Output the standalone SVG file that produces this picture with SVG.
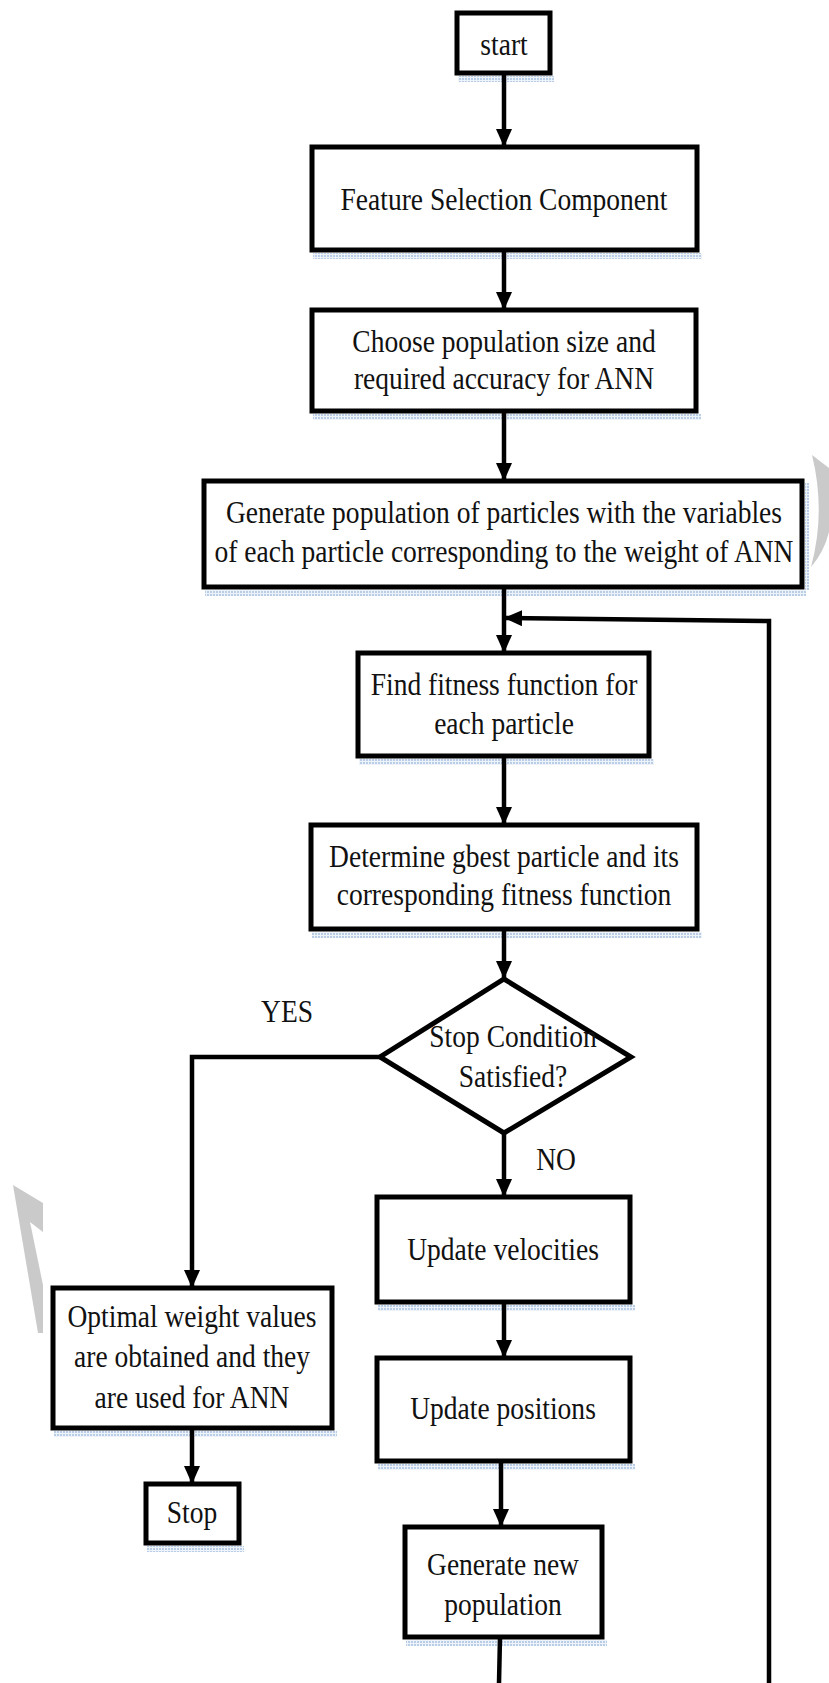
<svg xmlns="http://www.w3.org/2000/svg" width="829" height="1683" viewBox="0 0 829 1683">
<defs>
<pattern id="dots" width="3" height="3" patternUnits="userSpaceOnUse">
<rect width="3" height="3" fill="#eef3fa"/>
<rect width="2" height="2" fill="#b9cde6"/>
</pattern>
<marker id="ah" markerUnits="userSpaceOnUse" markerWidth="18" markerHeight="16" refX="18" refY="8" orient="auto">
<path d="M0,0 L18,8 L0,16 Z" fill="#000"/>
</marker>
</defs>
<style>
.box{fill:#fff;stroke:#000;stroke-width:5}
.sh{fill:url(#dots)}
.t{font-family:"Liberation Serif","Times New Roman",serif;font-size:32px;fill:#111;text-anchor:middle}
.c{fill:none;stroke:#000;stroke-width:4.5}
.wm{fill:#cacaca}
</style>
<rect width="829" height="1683" fill="#fff"/>
<g id="watermark">
<path class="wm" d="M812,455 Q826,512 811,567 Q824,552 829,532 L829,468 Z"/>
<path class="wm" d="M13,1185 L43,1203 L43,1232 L30,1222 L43,1285 L43,1333 L38,1333 Z"/>
</g>
<g id="shadows">
<rect class="sh" x="458" y="76" width="96" height="6"/>
<rect class="sh" x="313" y="253" width="389" height="6"/>
<rect class="sh" x="313" y="414" width="388" height="6"/>
<rect class="sh" x="205" y="590" width="601" height="6"/>
<rect class="sh" x="805" y="483" width="4" height="107"/>
<rect class="sh" x="359" y="759" width="295" height="6"/>
<rect class="sh" x="312" y="932" width="390" height="6"/>
<rect class="sh" x="54" y="1431" width="283" height="6"/>
<rect class="sh" x="147" y="1546" width="97" height="6"/>
<rect class="sh" x="378" y="1305" width="257" height="6"/>
<rect class="sh" x="378" y="1464" width="257" height="6"/>
<rect class="sh" x="406" y="1640" width="201" height="6"/>
</g>
<g id="connectors">
<path class="c" d="M504,73 L504,147" marker-end="url(#ah)"/>
<path class="c" d="M504,250 L504,310" marker-end="url(#ah)"/>
<path class="c" d="M504,411 L504,481" marker-end="url(#ah)"/>
<path class="c" d="M504,587 L504,653" marker-end="url(#ah)"/>
<path class="c" d="M769,1683 L769,621 L504,618" marker-end="url(#ah)"/>
<path class="c" d="M504,756 L504,825" marker-end="url(#ah)"/>
<path class="c" d="M504,929 L504,979" marker-end="url(#ah)"/>
<path class="c" d="M380,1057 L192,1057 L192,1288" marker-end="url(#ah)"/>
<path class="c" d="M504,1133 L504,1197" marker-end="url(#ah)"/>
<path class="c" d="M504,1302 L504,1358" marker-end="url(#ah)"/>
<path class="c" d="M501,1461 L501,1527" marker-end="url(#ah)"/>
<path class="c" d="M500,1637 L499,1683"/>
<path class="c" d="M192,1428 L192,1484" marker-end="url(#ah)"/>
</g>
<g id="start">
<rect class="box" x="457" y="13" width="93" height="60"/>
<text class="t" transform="translate(504 0) scale(0.86 1)" x="0" y="55">start</text>
</g>
<g id="feature">
<rect class="box" x="312" y="147" width="385" height="103"/>
<text class="t" transform="translate(504 0) scale(0.86 1)" x="0" y="210">Feature Selection Component</text>
</g>
<g id="choose">
<rect class="box" x="312" y="310" width="384" height="101"/>
<text class="t" transform="translate(504 0) scale(0.86 1)"><tspan x="0" y="352">Choose population size and</tspan><tspan x="0" y="389">required accuracy for ANN</tspan></text>
</g>
<g id="generate">
<rect class="box" x="204" y="481" width="598" height="106"/>
<text class="t" transform="translate(504 0) scale(0.86 1)"><tspan x="0" y="523">Generate population of particles with the variables</tspan><tspan x="0" y="562">of each particle corresponding to the weight of ANN</tspan></text>
</g>
<g id="fitness">
<rect class="box" x="358" y="653" width="291" height="103"/>
<text class="t" transform="translate(504 0) scale(0.86 1)"><tspan x="0" y="695">Find fitness function for</tspan><tspan x="0" y="734">each particle</tspan></text>
</g>
<g id="gbest">
<rect class="box" x="311" y="825" width="386" height="104"/>
<text class="t" transform="translate(504 0) scale(0.86 1)"><tspan x="0" y="867">Determine gbest particle and its</tspan><tspan x="0" y="905">corresponding fitness function</tspan></text>
</g>
<g id="decision">
<path class="box" d="M504,979 L631,1057 L504,1133 L380,1057 Z"/>
<text class="t" transform="translate(513 0) scale(0.86 1)"><tspan x="0" y="1047">Stop Condition</tspan><tspan x="0" y="1087">Satisfied?</tspan></text>
</g>
<g id="labels">
<text class="t" transform="translate(287 0) scale(0.86 1)" x="0" y="1022">YES</text>
<text class="t" transform="translate(556 0) scale(0.86 1)" x="0" y="1170">NO</text>
</g>
<g id="velocities">
<rect class="box" x="377" y="1197" width="253" height="105"/>
<text class="t" transform="translate(503 0) scale(0.86 1)" x="0" y="1260">Update velocities</text>
</g>
<g id="positions">
<rect class="box" x="377" y="1358" width="253" height="103"/>
<text class="t" transform="translate(503 0) scale(0.86 1)" x="0" y="1419">Update positions</text>
</g>
<g id="newpop">
<rect class="box" x="405" y="1527" width="197" height="110"/>
<text class="t" transform="translate(503 0) scale(0.86 1)"><tspan x="0" y="1575">Generate new</tspan><tspan x="0" y="1615">population</tspan></text>
</g>
<g id="optimal">
<rect class="box" x="53" y="1288" width="279" height="140"/>
<text class="t" transform="translate(192 0) scale(0.86 1)"><tspan x="0" y="1327">Optimal weight values</tspan><tspan x="0" y="1367">are obtained and they</tspan><tspan x="0" y="1408">are used for ANN</tspan></text>
</g>
<g id="stop">
<rect class="box" x="146" y="1484" width="93" height="59"/>
<text class="t" transform="translate(192 0) scale(0.86 1)" x="0" y="1523">Stop</text>
</g>
</svg>
